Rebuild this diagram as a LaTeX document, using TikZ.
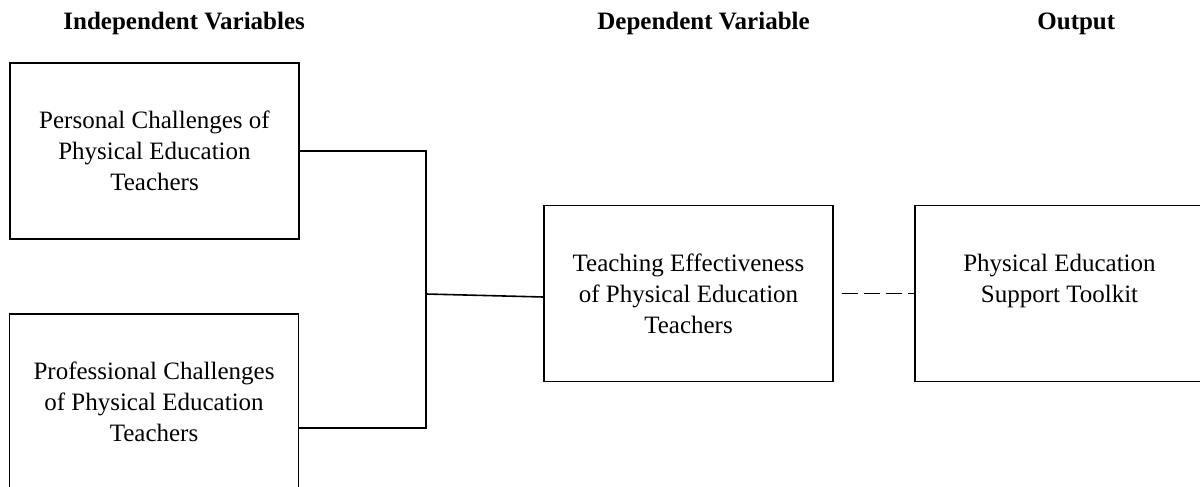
\documentclass[tikz,border=0pt]{standalone}
\usepackage{fontspec}
\setmainfont{Liberation Serif}
\begin{document}
\begin{tikzpicture}[%
  box/.style = {draw, line width = 0.8pt, align = center, inner sep = 0pt,
    minimum width = 144.5pt, minimum height = 88pt,
    font = \fontsize{12.5}{15.5}\selectfont},
  heading/.style = {anchor = base west, inner sep = 0pt,
    font = \fontsize{12.5}{15}\selectfont\bfseries},
  link/.style = {line width = 0.8pt},
  x = 0.5pt, y = -0.5pt]
  \useasboundingbox (0, 0) rectangle (1200, 487);

  \node[heading] (hind) at (63, 29) {Independent Variables};
  \node[heading] (hdep) at (597, 29) {Dependent Variable};
  \node[heading] (hout) at (1037, 29) {Output};

  \node[box] (pers) at (154.5, 151) {Personal Challenges of\\Physical Education\\Teachers};
  \node[box] (prof) at (154, 402) {Professional Challenges\\of Physical Education\\Teachers};
  \node[box] (eff) at (688.5, 293.5) {Teaching Effectiveness\\of Physical Education\\Teachers};
  \node[box] (kit) at (1059.5, 293.5) {Physical Education\\Support Toolkit\\\mbox{}};

  \coordinate (join) at (426, 294);
  \draw[link] (pers.east) -| (join) |- ([yshift = -13pt]prof.east);
  \draw[link] (join) -- ([yshift = -1.75pt]eff.west);
  \draw[link, dash pattern = on 8pt off 3pt, shorten <= 4pt] (eff.east) -- (kit.west);
\end{tikzpicture}
\end{document}
